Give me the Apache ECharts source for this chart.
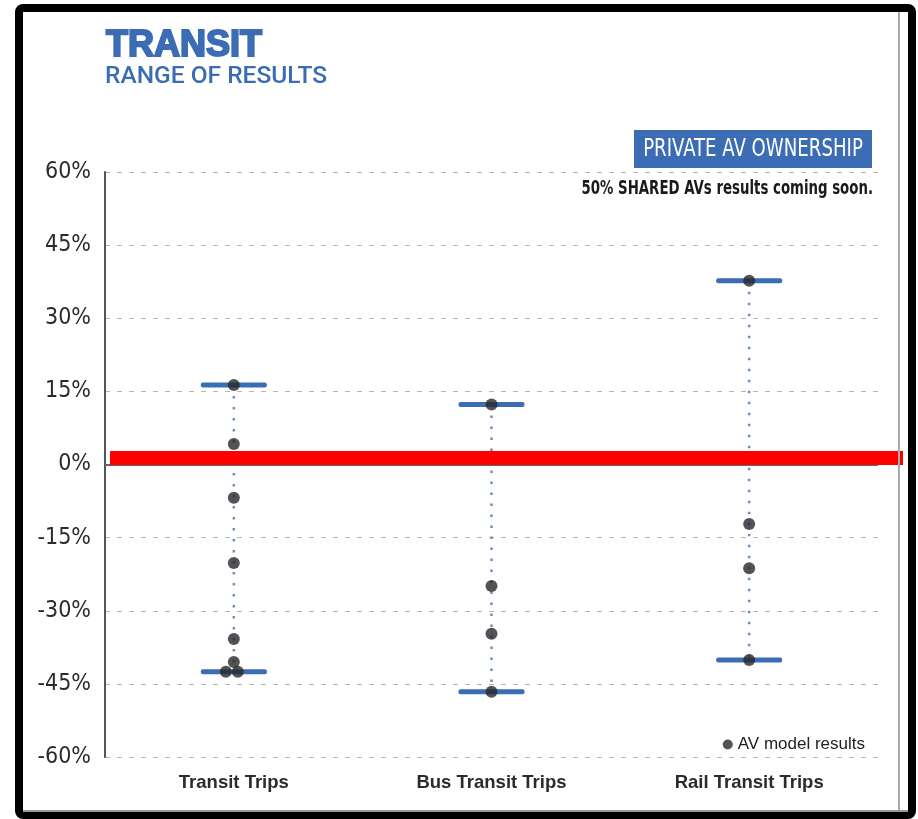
<!DOCTYPE html>
<html>
<head>
<meta charset="utf-8">
<script src="https://cdn.jsdelivr.net/npm/echarts@6/dist/echarts.min.js"></script>
<style>
  html, body { margin: 0; padding: 0; background: #fff; }
  #chart { width: 918px; height: 819px; }
</style>
</head>
<body>
<div id="chart"></div>
<script>
// ---- data ----
const categories = ['Transit Trips', 'Bus Transit Trips', 'Rail Transit Trips'];
const transitResults = [16.3, 4.2, -6.8, -20.2, -35.8, -40.5, -42.5, -42.5];
const busResults = [12.3, -24.9, -34.7, -46.6];
const railResults = [37.7, -12.2, -21.3, -40.1];
const yTicks = [-60, -45, -30, -15, 0, 15, 30, 45, 60];
const titleText = 'TRANSIT';
const subtitleText = 'RANGE OF RESULTS';
const badgeText = 'PRIVATE AV OWNERSHIP';
const noteText = '50% SHARED AVs results coming soon.';
const legendText = 'AV model results';

// ---- derived ----
const allResults = [transitResults, busResults, railResults];
const rangeData = allResults.map((arr, i) => [i, Math.min(...arr), Math.max(...arr)]);
// small horizontal jitter for overlapping points (style only)
const jitter = { '0-6': -8, '0-7': 4 };
const pointData = [];
allResults.forEach((arr, i) => {
  arr.forEach((v, j) => {
    const off = jitter[i + '-' + j];
    pointData.push(off !== undefined ? { value: [i, v], symbolOffset: [off, 0] } : { value: [i, v] });
  });
});

const NARROW = "'Liberation Sans Narrow', 'DejaVu Sans Condensed', 'Roboto Condensed', sans-serif";
const BLUE = '#3b6cb4';

const chart = echarts.init(document.getElementById('chart'), null, { renderer: 'canvas' });
chart.setOption({
  backgroundColor: '#ffffff',
  animation: false,
  grid: { left: 105, top: 172, width: 773, height: 585, containLabel: false },
  legend: {
    data: [legendText],
    right: 48, top: 731,
    icon: 'circle', itemWidth: 10, itemHeight: 10, itemGap: 4,
    textStyle: { fontFamily: "'Liberation Sans', Arial, sans-serif", fontSize: 17, color: '#222' }
  },
  xAxis: {
    type: 'category',
    data: categories,
    boundaryGap: true,
    axisLine: { show: false },
    axisTick: { show: false },
    splitLine: { show: false },
    axisLabel: {
      margin: 16,
      fontFamily: "'Liberation Sans', Arial, sans-serif",
      fontWeight: 'bold', fontSize: 18.5, color: '#2b2b2b'
    }
  },
  yAxis: {
    type: 'value',
    min: yTicks[0], max: yTicks[yTicks.length - 1], interval: 15,
    axisLine: { show: true, lineStyle: { color: '#555', width: 2 } },
    axisTick: { show: false },
    axisLabel: {
      margin: 14,
      formatter: '{value}%',
      fontFamily: NARROW, fontSize: 23, color: '#2b2b2b'
    },
    splitLine: { show: true, lineStyle: { color: '#b5b5b5', width: 1, type: [5, 7] } }
  },
  series: [
    {
      type: 'custom',
      name: 'range',
      data: rangeData,
      z: 2,
      renderItem: function (params, api) {
        const c = api.value(0);
        const lo = api.coord([c, api.value(1)]);
        const hi = api.coord([c, api.value(2)]);
        const capW = 66, capH = 5;
        return {
          type: 'group',
          children: [
            { type: 'line', shape: { x1: hi[0], y1: hi[1], x2: lo[0], y2: lo[1] },
              style: { stroke: '#6f8cc4', lineWidth: 2.5, lineDash: [2.5, 8.5] } },
            { type: 'rect', shape: { x: hi[0] - capW / 2, y: hi[1] - capH / 2, width: capW, height: capH, r: 2 },
              style: { fill: BLUE } },
            { type: 'rect', shape: { x: lo[0] - capW / 2, y: lo[1] - capH / 2, width: capW, height: capH, r: 2 },
              style: { fill: BLUE } }
          ]
        };
      },
      markLine: {
        silent: true, symbol: 'none', label: { show: false },
        lineStyle: { color: '#666', width: 2, type: 'solid' },
        data: [{ yAxis: 0 }]
      }
    },
    {
      type: 'scatter',
      name: legendText,
      data: pointData,
      symbol: 'circle',
      symbolSize: 12,
      itemStyle: { color: '#282828' },
      z: 5
    }
  ],
  graphic: [
    // page frame
    { type: 'rect', shape: { x: 19, y: 8, width: 893, height: 807, r: 4 },
      style: { fill: 'none', stroke: '#000', lineWidth: 8 }, z: 100 },
    { type: 'line', shape: { x1: 899, y1: 12, x2: 899, y2: 811 },
      style: { stroke: '#aaa', lineWidth: 2 }, z: 100 },
    { type: 'line', shape: { x1: 23, y1: 811, x2: 908, y2: 811 },
      style: { stroke: '#999', lineWidth: 2 }, z: 100 },
    // titles
    { type: 'text', left: 105, top: 27, z: 50,
      style: { text: titleText, fill: BLUE, stroke: BLUE, lineWidth: 2,
               font: "bold 36px 'Liberation Sans', Arial, sans-serif" } },
    { type: 'text', left: 105, top: 64, z: 50,
      style: { text: subtitleText, fill: BLUE, font: "500 24.5px Roboto, 'Liberation Sans', sans-serif" } },
    // badge
    { type: 'rect', shape: { x: 634, y: 130, width: 238, height: 38 },
      style: { fill: BLUE }, z: 50 },
    { type: 'text', x: 753, y: 150, scaleX: 0.84, z: 51,
      style: { text: badgeText, fill: '#fff', align: 'center', verticalAlign: 'middle',
               font: "24px " + NARROW } },
    { type: 'text', x: 873, y: 189, scaleX: 0.78, z: 51,
      style: { text: noteText, fill: '#1a1a1a', align: 'right', verticalAlign: 'middle',
               font: "bold 19px " + NARROW } },
    // red annotation bar
    { type: 'rect', shape: { x: 110, y: 451, width: 793, height: 14 },
      style: { fill: '#ff0000' }, z: 60 }
  ]
});
</script>
</body>
</html>
